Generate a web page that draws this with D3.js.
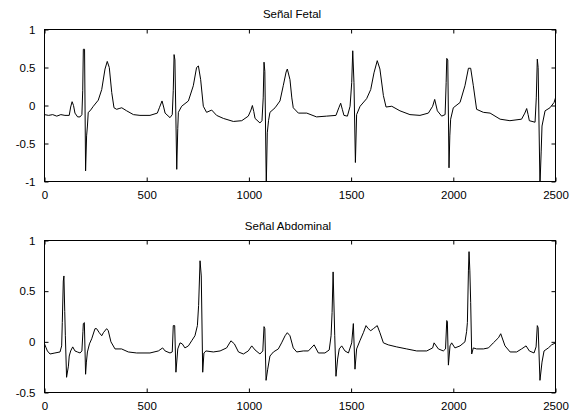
<!DOCTYPE html>
<html>
<head>
<meta charset="utf-8">
<script src="https://cdn.jsdelivr.net/npm/d3@7"></script>
<style>
  html, body { margin: 0; padding: 0; background: #fff; }
  svg text { font-family: "Liberation Sans", Arial, Helvetica, sans-serif; fill: #000; }
</style>
</head>
<body>
<div id="chart"></div>
<script>
// senal fetal / abdominal
const titles = ['Señal Fetal', 'Señal Abdominal'];
const xTicks = [0, 500, 1000, 1500, 2000, 2500];
const fetalYTicks = [-1, -0.5, 0, 0.5, 1];
const abdYTicks = [-0.5, 0, 0.5, 1];

const fetalSignal = [
  [0,-0.12],[20,-0.13],[40,-0.12],[60,-0.14],[80,-0.12],[100,-0.13],[121,-0.13],[128,-0.02],[135,0.05],[142,0.0],
  [149,-0.1],[162,-0.15],[174,-0.15],[183,-0.12],[187,0.2],[190,0.74],[196,0.74],[201,-0.86],[206,-0.4],[210,-0.27],
  [214,-0.09],[223,-0.07],[239,-0.01],[263,0.07],[280,0.21],[296,0.48],[307,0.58],[317,0.5],[329,0.17],[340,-0.03],
  [353,-0.05],[365,-0.04],[378,-0.03],[402,-0.07],[435,-0.12],[467,-0.13],[516,-0.13],[552,-0.1],[562,-0.03],[575,0.06],
  [583,-0.02],[590,-0.1],[614,-0.16],[625,-0.12],[630,0.2],[634,0.67],[638,0.6],[647,-0.84],[652,-0.3],[655,-0.09],
  [671,-0.01],[704,0.06],[728,0.26],[744,0.5],[753,0.52],[764,0.34],[777,-0.01],[793,-0.09],[818,-0.06],[842,-0.13],
  [875,-0.17],[924,-0.21],[965,-0.2],[997,-0.14],[1010,-0.06],[1017,0.0],[1024,-0.08],[1030,-0.17],[1054,-0.23],[1064,-0.2],
  [1070,0.1],[1074,0.57],[1078,0.45],[1085,-1.05],[1090,-0.36],[1096,-0.2],[1103,-0.09],[1128,-0.03],[1152,0.06],[1168,0.26],
  [1182,0.44],[1188,0.48],[1201,0.34],[1210,0.1],[1217,-0.03],[1242,-0.1],[1283,-0.1],[1331,-0.15],[1380,-0.14],[1426,-0.13],
  [1440,-0.03],[1449,0.03],[1457,-0.05],[1465,-0.13],[1482,-0.14],[1495,-0.01],[1503,0.3],[1508,0.72],[1514,0.3],[1521,-0.75],
  [1527,-0.12],[1544,-0.01],[1576,0.09],[1596,0.21],[1612,0.43],[1628,0.59],[1641,0.48],[1658,0.13],[1671,-0.02],[1699,-0.01],
  [1739,-0.07],[1788,-0.12],[1837,-0.13],[1878,-0.1],[1899,-0.01],[1909,0.08],[1922,-0.07],[1943,-0.14],[1960,-0.12],[1965,0.3],
  [1968,0.62],[1973,0.6],[1979,-0.82],[1983,-0.4],[1987,-0.18],[2000,-0.03],[2033,0.04],[2057,0.26],[2074,0.49],[2085,0.49],
  [2098,0.26],[2114,-0.05],[2147,-0.09],[2180,-0.1],[2229,-0.18],[2277,-0.2],[2334,-0.18],[2350,-0.1],[2359,-0.04],[2366,-0.12],
  [2372,-0.2],[2400,-0.22],[2406,0.1],[2411,0.61],[2415,0.5],[2424,-1.05],[2430,-0.6],[2434,-0.27],[2449,-0.07],[2473,-0.03],
  [2493,0.04],[2500,0.1]
];

const abdSignal = [
  [0,-0.02],[8,-0.06],[14,-0.09],[27,-0.12],[51,-0.11],[76,-0.1],[84,-0.04],[87,0.19],[92,0.6],[95,0.65],
  [99,0.3],[102,0.06],[108,-0.35],[117,-0.24],[121,-0.14],[128,-0.09],[138,-0.05],[149,-0.09],[161,-0.1],[174,-0.11],
  [183,-0.09],[188,0.1],[190,0.18],[195,0.19],[201,-0.32],[205,-0.2],[210,-0.1],[220,-0.02],[231,0.03],[247,0.13],
  [255,0.13],[268,0.09],[280,0.06],[288,0.09],[304,0.13],[312,0.11],[325,0],[345,-0.07],[377,-0.07],[410,-0.1],
  [451,-0.11],[516,-0.11],[557,-0.09],[578,-0.06],[590,-0.09],[614,-0.11],[625,-0.1],[630,0.16],[637,0.16],[643,-0.3],
  [652,-0.07],[663,-0.01],[674,-0.02],[687,-0.06],[704,-0.04],[720,0.01],[736,0.06],[748,0.16],[754,0.36],[761,0.8],
  [767,0.65],[774,-0.3],[780,-0.11],[790,-0.09],[826,-0.1],[859,-0.09],[891,-0.06],[912,0.01],[929,-0.02],[949,-0.1],
  [973,-0.12],[997,-0.09],[1014,-0.04],[1030,-0.08],[1054,-0.12],[1068,-0.09],[1074,0.15],[1078,0.13],[1084,-0.38],[1092,-0.27],
  [1103,-0.14],[1120,-0.1],[1144,-0.07],[1160,-0.01],[1177,0.06],[1188,0.09],[1201,0.06],[1217,-0.06],[1234,-0.1],[1266,-0.09],
  [1291,-0.09],[1319,-0.03],[1340,-0.11],[1372,-0.11],[1393,-0.08],[1402,0.06],[1407,0.29],[1412,0.69],[1420,0.06],[1426,-0.34],
  [1434,-0.17],[1442,-0.07],[1454,-0.04],[1470,-0.09],[1487,-0.11],[1503,-0.01],[1511,0.18],[1519,-0.27],[1527,-0.07],[1543,0.01],
  [1560,0.09],[1573,0.16],[1584,0.13],[1596,0.11],[1609,0.13],[1628,0.16],[1641,0.09],[1658,-0.01],[1682,-0.03],[1723,-0.05],
  [1772,-0.07],[1821,-0.09],[1870,-0.09],[1899,-0.06],[1906,-0.01],[1927,-0.07],[1951,-0.09],[1962,-0.07],[1968,0.21],[1971,0.2],
  [1976,-0.23],[1984,-0.04],[1992,-0.01],[2008,-0.06],[2033,-0.04],[2057,0],[2065,0.1],[2069,0.19],[2074,0.7],[2077,0.89],
  [2081,0.7],[2085,0.39],[2090,-0.12],[2098,-0.06],[2114,-0.07],[2147,-0.07],[2172,-0.06],[2196,-0.01],[2221,0.04],[2232,0.08],
  [2253,-0.04],[2278,-0.1],[2310,-0.1],[2334,-0.07],[2356,-0.04],[2372,-0.09],[2395,-0.11],[2405,-0.05],[2411,0.16],[2415,0.14],
  [2424,-0.38],[2434,-0.2],[2444,-0.09],[2465,-0.06],[2481,-0.03],[2500,-0.01]
];

const W = 571, H = 416;
const svg = d3.select('#chart').append('svg').attr('width', W).attr('height', H);

const panels = [
  {title: titles[0], data: fetalSignal, yDomain: [-1, 1], yTicks: fetalYTicks, top: 29.5, bottom: 181.5, titleX: 292, titleY: 18},
  {title: titles[1], data: abdSignal, yDomain: [-0.5, 1], yTicks: abdYTicks, top: 240.5, bottom: 392.5, titleX: 288, titleY: 230}
];
const left = 44.5, right = 555.5;
const fmt = d => String(d);

panels.forEach((p, i) => {
  const x = d3.scaleLinear().domain([0, 2500]).range([left, right]);
  const y = d3.scaleLinear().domain(p.yDomain).range([p.bottom, p.top]);
  const g = svg.append('g');

  svg.append('clipPath').attr('id', 'clip' + i)
    .append('rect').attr('x', left).attr('y', p.top).attr('width', right - left).attr('height', p.bottom - p.top);

  // signal
  g.append('path').datum(p.data)
    .attr('clip-path', `url(#clip${i})`)
    .attr('fill', 'none').attr('stroke', '#000').attr('stroke-width', 1)
    .attr('stroke-linejoin', 'round')
    .attr('d', d3.line().x(d => x(d[0])).y(d => y(d[1])));

  // axes (ticks inward on all four sides)
  const tl = 4;
  g.append('g').attr('transform', `translate(0,${p.bottom})`)
    .call(d3.axisBottom(x).tickValues(xTicks).tickFormat(fmt).tickSizeInner(-tl).tickSizeOuter(0).tickPadding(9));
  g.append('g').attr('transform', `translate(0,${p.top})`)
    .call(d3.axisTop(x).tickValues(xTicks).tickFormat('').tickSizeInner(-tl).tickSizeOuter(0));
  g.append('g').attr('transform', `translate(${left},0)`)
    .call(d3.axisLeft(y).tickValues(p.yTicks).tickFormat(fmt).tickSizeInner(-tl).tickSizeOuter(0).tickPadding(9));
  g.append('g').attr('transform', `translate(${right},0)`)
    .call(d3.axisRight(y).tickValues(p.yTicks).tickFormat('').tickSizeInner(-tl).tickSizeOuter(0));

  g.selectAll('.domain').remove();
  g.selectAll('.tick line').attr('stroke', '#000');
  g.selectAll('.tick text').style('font-size', '11.5px');

  // frame
  g.append('rect').attr('x', left).attr('y', p.top).attr('width', right - left).attr('height', p.bottom - p.top)
    .attr('fill', 'none').attr('stroke', '#000').attr('stroke-width', 1);

  g.append('text').attr('x', p.titleX).attr('y', p.titleY).attr('text-anchor', 'middle')
    .style('font-size', '11.5px').text(p.title);
});
</script>
</body>
</html>
